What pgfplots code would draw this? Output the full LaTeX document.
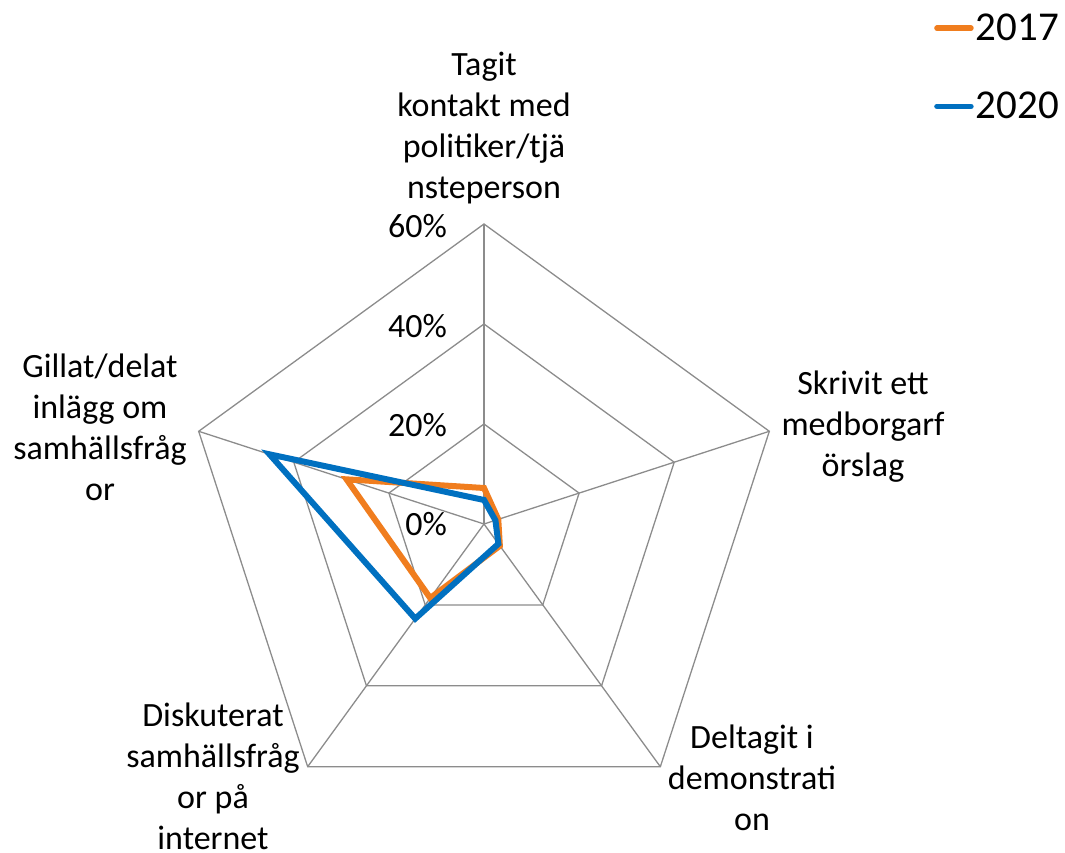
\documentclass[border=0pt]{standalone}
\usepackage{fontspec}
\setmainfont{Carlito}
\usepackage{pgfplots}
\pgfplotsset{compat=1.18}
\definecolor{orA}{RGB}{240,125,30}
\definecolor{blA}{RGB}{0,112,192}
\definecolor{grA}{RGB}{140,140,140}
\begin{document}
\begin{tikzpicture}
\begin{axis}[
  x=5pt, y=5pt,
  xmin=-96.8, xmax=116.2, ymin=-65.6, ymax=104.8,
  hide axis, clip=false,
  legend cell align=left,
  legend image code/.code={\draw[#1, line width=5.5pt, line cap=round] (0pt,0pt) -- (34pt,0pt);},
  legend style={draw=none, fill=none, at={(axis cs:90.0,102.4)}, anchor=north west,
    font=\fontsize{41}{48}\selectfont, row sep=46pt, inner sep=0pt,
    nodes={inner sep=2pt}},
]
% grid rings
\addplot[grA, line width=1.3pt, data cs=polar, forget plot] coordinates {(90,20) (18,20) (-54,20) (-126,20) (162,20)} -- cycle;
\addplot[grA, line width=1.3pt, data cs=polar, forget plot] coordinates {(90,40) (18,40) (-54,40) (-126,40) (162,40)} -- cycle;
\addplot[grA, line width=1.3pt, data cs=polar, forget plot] coordinates {(90,60) (18,60) (-54,60) (-126,60) (162,60)} -- cycle;
% spokes
\addplot[grA, line width=1.3pt, data cs=polar, forget plot] coordinates {(90,0) (90,60)};
\addplot[grA, line width=1.3pt, data cs=polar, forget plot] coordinates {(18,0) (18,60)};
\addplot[grA, line width=1.3pt, data cs=polar, forget plot] coordinates {(-54,0) (-54,60)};
\addplot[grA, line width=1.3pt, data cs=polar, forget plot] coordinates {(-126,0) (-126,60)};
\addplot[grA, line width=1.3pt, data cs=polar, forget plot] coordinates {(162,0) (162,60)};
% data
\addplot[orA, line width=6pt, data cs=polar] coordinates {(90,7.2) (18,3.0) (-54,5.4) (-126,18.3) (162,28.9)} -- cycle;
\addplot[blA, line width=6pt, data cs=polar] coordinates {(90,4.8) (18,2.4) (-54,4.9) (-126,23.4) (162,45.1)} -- cycle;
\legend{2017,2020}
% radial labels
\begin{scope}[every node/.style={font=\fontsize{34}{41}\selectfont, inner sep=0pt, anchor=east}]
\node at (axis cs:-7.4,0) {0\%};
\node at (axis cs:-7.4,19.8) {20\%};
\node at (axis cs:-7.4,39.6) {40\%};
\node at (axis cs:-7.4,59.6) {60\%};
\end{scope}
% category labels
\begin{scope}[every node/.style={font=\fontsize{34}{41}\selectfont, inner sep=0pt, align=center}]
\node at (axis cs:0,79.2) {Tagit\\kontakt med\\politiker/tjä\\nsteperson};
\node at (axis cs:75.8,19.4) {Skrivit ett\\medborgarf\\örslag};
\node at (axis cs:53.6,-50.8) {Deltagit i\\demonstrati\\on};
\node at (axis cs:-54.2,-50.4) {Diskuterat\\samhällsfråg\\or på\\internet};
\node at (axis cs:-76.8,19.4) {Gillat/delat\\inlägg om\\samhällsfråg\\or};
\end{scope}
\end{axis}
\pgfresetboundingbox
\path[use as bounding box] (current axis.south west) rectangle (current axis.north east);
\end{tikzpicture}
\end{document}
